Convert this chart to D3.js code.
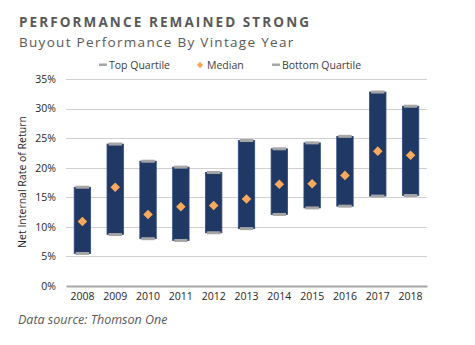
<!DOCTYPE html>
<html>
<head>
<meta charset="utf-8">
<script src="https://cdn.jsdelivr.net/npm/d3@7"></script>
<style>
  body { margin: 0; background: #fff; }
  svg { display: block; font-family: "Open Sans", sans-serif; }
</style>
</head>
<body>
<div id="chart"></div>
<script>
// data
const years = ["2008","2009","2010","2011","2012","2013","2014","2015","2016","2017","2018"];
const topQuartile    = [16.7, 24.0, 21.1, 20.1, 19.2, 24.6, 23.2, 24.2, 25.3, 32.8, 30.4];
const medianIRR      = [10.9, 16.7, 12.1, 13.4, 13.6, 14.7, 17.2, 17.3, 18.7, 22.8, 22.1];
const bottomQuartile = [5.5,  8.7,  8.0,  7.7,  9.0,  9.7,  12.1, 13.2, 13.5, 15.2, 15.3];
const yTicks = [0, 5, 10, 15, 20, 25, 30, 35];

const width = 475, height = 345;
const margin = {top: 79, right: 48, bottom: 59, left: 66};
const plotW = width - margin.left - margin.right,
      plotH = height - margin.top - margin.bottom;

const rows = years.map((y, i) => ({
  year: y, top: topQuartile[i], med: medianIRR[i], bot: bottomQuartile[i]
}));

let svg = d3.select("#chart")
  .append("svg")
    .attr("width", width)
    .attr("height", height);

// titles
svg.append("text")
  .attr("x", 19).attr("y", 27)
  .attr("fill", "#595959")
  .style("font-size", "13.5px")
  .style("font-weight", "bold")
  .style("letter-spacing", "2.1px")
  .text("PERFORMANCE REMAINED STRONG");

svg.append("text")
  .attr("x", 19).attr("y", 47)
  .attr("fill", "#595959")
  .style("font-size", "13.5px")
  .style("letter-spacing", "1.3px")
  .text("Buyout Performance By Vintage Year");

// scales
const x = d3.scaleBand()
  .domain(years)
  .range([0, plotW])
  .paddingInner(0.5)
  .paddingOuter(0.25);

const y = d3.scaleLinear()
  .domain([0, 35])
  .range([plotH, 0]);

const g = svg.append("g")
  .attr("transform", "translate(" + margin.left + "," + margin.top + ")");

// gridlines
g.append("g")
  .selectAll("line")
  .data(yTicks.filter(t => t > 0))
  .enter()
  .append("line")
    .attr("x1", 0).attr("x2", plotW)
    .attr("y1", d => Math.round(y(d)) + 0.5)
    .attr("y2", d => Math.round(y(d)) + 0.5)
    .attr("stroke", "#d0d0d0")
    .attr("stroke-width", 1);

// y axis labels
const yAxis = g.append("g")
  .call(d3.axisLeft(y).tickValues(yTicks).tickFormat(d => d + "%").tickSize(0).tickPadding(10));
yAxis.select(".domain").remove();
yAxis.selectAll("text")
  .style("font-size", "10.5px")
  .style("font-family", "Open Sans, sans-serif")
  .attr("fill", "#262626");

// x axis
const xAxis = g.append("g")
  .attr("transform", "translate(0," + plotH + ")")
  .call(d3.axisBottom(x).tickSize(0).tickPadding(7));
xAxis.select(".domain")
  .attr("stroke", "#a6a6a6")
  .attr("stroke-width", 2);
xAxis.selectAll("text")
  .style("font-size", "10.5px")
  .style("font-family", "Open Sans, sans-serif")
  .attr("fill", "#262626");

// axis title
svg.append("text")
  .attr("transform", "translate(26,182) rotate(-90)")
  .attr("text-anchor", "middle")
  .attr("fill", "#262626")
  .style("font-size", "10.5px")
  .text("Net Internal Rate of Return");

// quartile bars
g.selectAll("rect.bar")
  .data(rows)
  .enter()
  .append("rect")
    .attr("class", "bar")
    .attr("x", d => x(d.year))
    .attr("y", d => y(d.top))
    .attr("width", x.bandwidth())
    .attr("height", d => y(d.bot) - y(d.top))
    .attr("fill", "#1f3864")
    .attr("stroke", "#2e4a80")
    .attr("stroke-width", 0.8);

// caps for top / bottom quartile
const capH = 3;
g.selectAll("rect.capTop")
  .data(rows)
  .enter()
  .append("rect")
    .attr("class", "capTop")
    .attr("x", d => x(d.year) + 1.5)
    .attr("y", d => y(d.top) - capH / 2)
    .attr("width", x.bandwidth() - 3)
    .attr("height", capH)
    .attr("fill", "#a6a6a6");

g.selectAll("rect.capBot")
  .data(rows)
  .enter()
  .append("rect")
    .attr("class", "capBot")
    .attr("x", d => x(d.year) + 1.5)
    .attr("y", d => y(d.bot) - capH / 2)
    .attr("width", x.bandwidth() - 3)
    .attr("height", capH)
    .attr("fill", "#a6a6a6");

// median diamonds
const diamond = d3.symbol().type(d3.symbolSquare).size(46);
g.selectAll("path.med")
  .data(rows)
  .enter()
  .append("path")
    .attr("class", "med")
    .attr("d", diamond)
    .attr("transform", d => "translate(" + (x(d.year) + x.bandwidth() / 2) + "," + y(d.med) + ") rotate(45)")
    .attr("fill", "#f9a95b");

// legend
const legend = svg.append("g").attr("transform", "translate(0,65)");
const lg = [
  {label: "Top Quartile", x: 99, kind: "dash"},
  {label: "Median", x: 197, kind: "diamond"},
  {label: "Bottom Quartile", x: 272, kind: "dash"}
];
lg.forEach(item => {
  if (item.kind === "dash") {
    legend.append("rect")
      .attr("x", item.x).attr("y", -1.5)
      .attr("width", 8).attr("height", 2.5)
      .attr("fill", "#a6a6a6");
  } else {
    legend.append("path")
      .attr("d", d3.symbol().type(d3.symbolSquare).size(20))
      .attr("transform", "translate(" + (item.x + 3) + ",0) rotate(45)")
      .attr("fill", "#f9a95b");
  }
  legend.append("text")
    .attr("x", item.x + 10).attr("y", 3.7)
    .attr("fill", "#404040")
    .style("font-size", "10.5px")
    .text(item.label);
});

// source note
svg.append("text")
  .attr("x", 18).attr("y", 324)
  .attr("fill", "#595959")
  .style("font-size", "12.5px")
  .style("font-style", "italic")
  .text("Data source: Thomson One");
</script>
</body>
</html>
